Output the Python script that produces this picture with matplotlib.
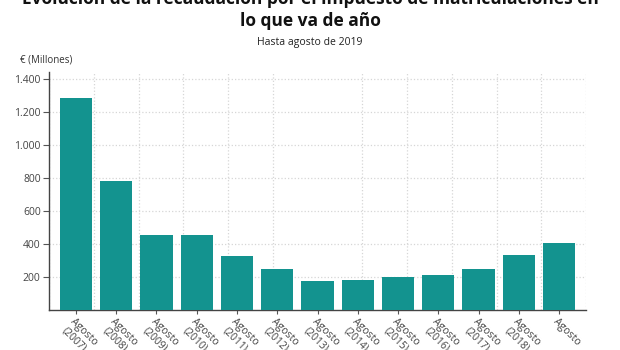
import numpy as np
import matplotlib
matplotlib.use("Agg")
import matplotlib.pyplot as plt

years = ["2007", "2008", "2009", "2010", "2011", "2012", "2013",
         "2014", "2015", "2016", "2017", "2018", "2019"]
recaudacion = [1280, 780, 450, 452, 326, 243, 175, 177, 200, 207, 247, 332, 403]
labels = [f"Agosto\n({y})" for y in years[:-1]] + ["Agosto"]
yticks = [200, 400, 600, 800, 1000, 1200, 1400]

plt.rcParams["font.family"] = ["Open Sans", "DejaVu Sans"]

fig = plt.figure(figsize=(6.2, 3.5), dpi=100)
ax = fig.add_axes([49 / 620, 1 - 309.5 / 350, 537 / 620, 237.5 / 350])

x = np.arange(len(years))
ax.bar(x, recaudacion, width=0.8, color="#13938f", zorder=3)

ax.set_xlim(-0.67, len(years) - 1 + 0.67)
ax.set_ylim(0, 1440)

ax.set_yticks(yticks)
ax.set_yticklabels([f"{v:,}".replace(",", ".") for v in yticks])
ax.set_xticks(x)
ax.set_xticklabels(labels, rotation=-45, ha="left", va="top",
                   rotation_mode="anchor", multialignment="left", linespacing=1.1)
ax.set_xticks(np.linspace(-0.67, len(years) - 1 + 0.67, 13), minor=True)

ax.grid(axis="y", which="major", color="#d6d6d6", linestyle=":", linewidth=0.9, zorder=0)
ax.grid(axis="x", which="minor", color="#d6d6d6", linestyle=":", linewidth=0.9, zorder=0)
ax.tick_params(axis="x", which="minor", length=0)
ax.tick_params(axis="x", which="major", length=3, color="#555555", labelsize=7.5,
               labelcolor="#444444", pad=2)
ax.tick_params(axis="y", length=4, color="#555555", labelsize=7.5, labelcolor="#444444", pad=2)

for s in ["top", "right"]:
    ax.spines[s].set_visible(False)
for s in ["left", "bottom"]:
    ax.spines[s].set_color("#444444")
    ax.spines[s].set_linewidth(1)

fig.text(0.5, 1 - 26 / 350,
         "Evolución de la recaudación por el impuesto de matriculaciones en\nlo que va de año",
         ha="center", va="baseline", fontsize=12.5, fontweight="bold", color="#111111",
         linespacing=1.3)
fig.text(0.5, 1 - 42 / 350, "Hasta agosto de 2019", ha="center", va="center",
         fontsize=7.5, color="#222222")
fig.text(20 / 620, 1 - 60 / 350, "€ (Millones)", ha="left", va="center",
         fontsize=7, color="#333333")

fig.savefig("out.png", dpi=100)
